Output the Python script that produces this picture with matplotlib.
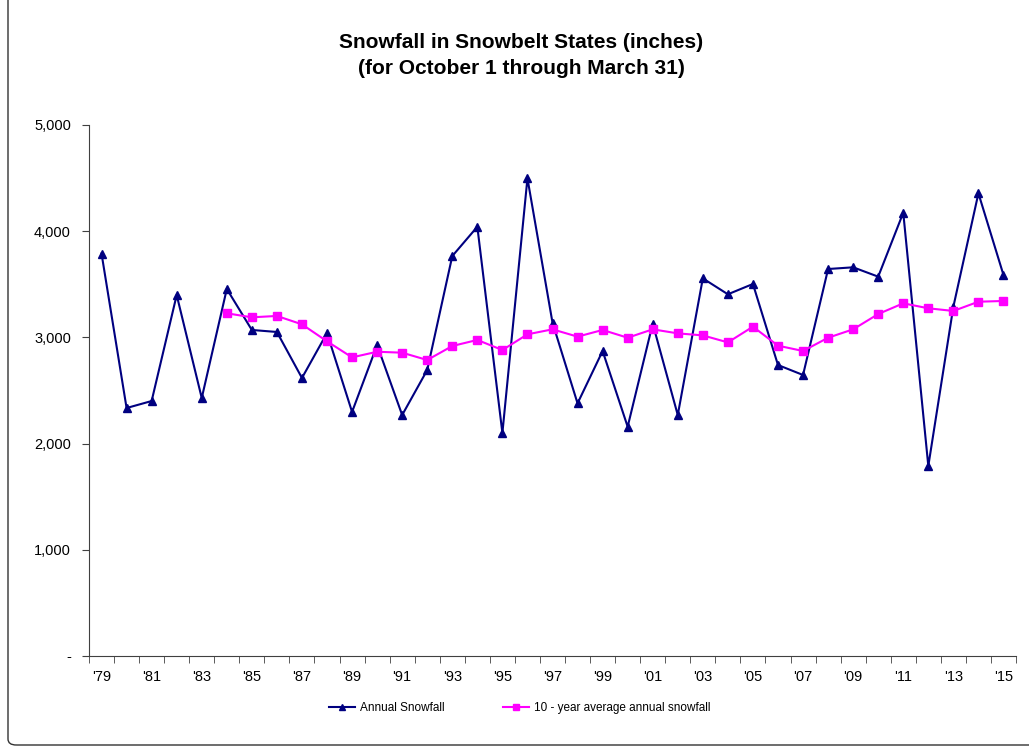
import numpy as np
import matplotlib
matplotlib.use("Agg")
import matplotlib.pyplot as plt
from matplotlib.patches import FancyBboxPatch
from matplotlib.ticker import FuncFormatter

plt.rcParams['font.family'] = ['Liberation Sans', 'DejaVu Sans']

# years 1979..2015
years = list(range(1979, 2016))
annual = [3790, 2335, 2401, 3399, 2429, 3456, 3070, 3051, 2618, 3041,
          2298, 2928, 2269, 2693, 3766, 4042, 2100, 4498, 3139, 2379,
          2872, 2159, 3130, 2269, 3556, 3406, 3503, 2740, 2646, 3644,
          3660, 3572, 4174, 1789, 3289, 4357, 3588]
# 10-year average, first value in 1984
avg_start = 1984
avg10 = [3227, 3189, 3202, 3123, 2963, 2812, 2865, 2856, 2787, 2919,
         2976, 2881, 3029, 3076, 3007, 3070, 2997, 3076, 3038, 3019,
         2953, 3101, 2922, 2872, 2997, 3076, 3220, 3321, 3274, 3249,
         3336, 3343]
tick_labels = ["'%02d" % (y % 100) for y in years]

fig = plt.figure(figsize=(10.29, 7.51), dpi=100)
ax = fig.add_axes([89 / 1029, 1 - 656 / 751, (1016 - 89) / 1029, (656 - 125) / 751])

x = np.arange(len(years))
xa = x[years.index(avg_start):]

ax.plot(x, annual, color='#000080', lw=1.5, marker='^', ms=6,
        label='Annual Snowfall')
ax.plot(xa, avg10, color='#FF00FF', lw=1.5, marker='s', ms=6,
        label='10 - year average annual snowfall')

ax.set_xlim(-0.5, len(years) - 0.5)
ax.set_ylim(0, 5000)
ax.set_yticks([0, 1000, 2000, 3000, 4000, 5000])
ax.yaxis.set_major_formatter(FuncFormatter(lambda v, p: '-' if v == 0 else f'{int(v):,}'))

ax.set_xticks(x[::2])
ax.set_xticklabels(tick_labels[::2])
ax.set_xticks(np.arange(-0.5, len(years), 1), minor=True)
ax.tick_params(axis='x', which='major', length=0, pad=10, labelsize=10.5)
ax.tick_params(axis='x', which='minor', length=5, direction='out', color='#404040')
ax.tick_params(axis='y', length=5, direction='out', pad=8, labelsize=10.5, color='#404040')

for s in ['top', 'right']:
    ax.spines[s].set_visible(False)
for s in ['left', 'bottom']:
    ax.spines[s].set_color('#404040')

fig.text(521 / 1029, 1 - 42 / 751, 'Snowfall in Snowbelt States (inches)', ha='center', va='center',
         fontsize=15, fontweight='bold')
fig.text(521 / 1029, 1 - 68 / 751, '(for October 1 through March 31)', ha='center', va='center',
         fontsize=15, fontweight='bold')

leg = fig.legend(loc='center', bbox_to_anchor=(0.505, 1 - 708 / 751), ncol=2, frameon=False,
                 fontsize=8.5, columnspacing=5, handlelength=2.2, handletextpad=0.4,
                 markerscale=0.8)

# outer border of the chart area
fig.patches.append(FancyBboxPatch((8 / 1029, 6 / 751), 1.2, 1.2, boxstyle='round,pad=0,rounding_size=0.008',
                                  transform=fig.transFigure, fill=False, edgecolor='#333333', lw=1))

fig.savefig('out.png', dpi=100)
